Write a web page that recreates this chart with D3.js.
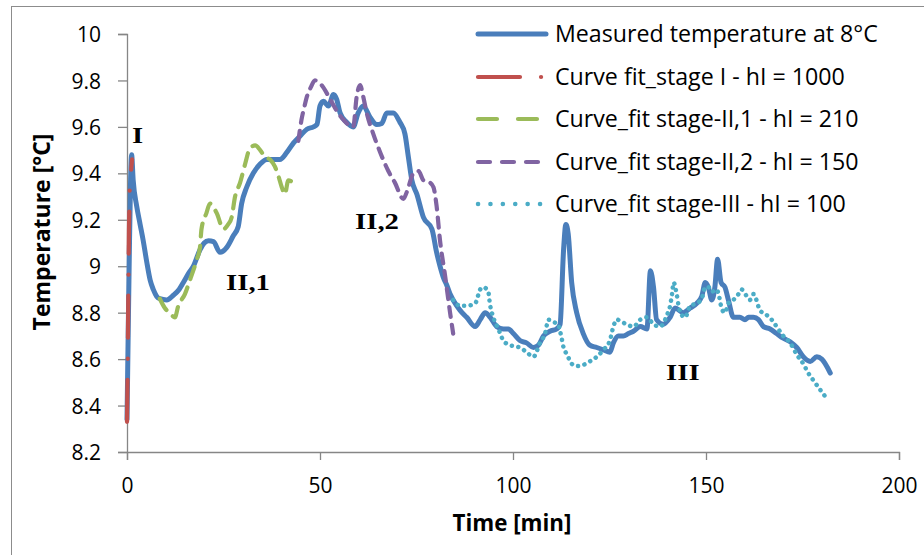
<!DOCTYPE html>
<html><head><meta charset="utf-8">
<script src="https://cdn.jsdelivr.net/npm/d3@7"></script>
<style>
html,body{margin:0;padding:0;background:#fff;}
svg{display:block;}
</style></head>
<body>
<script>
// ---------- DATA ----------
const measuredTime = [0,0.3,0.6,0.9,1.2,1.6,2.5,3.4,4.2,5.1,6.0,6.8,7.7,8.5,10.3,12.0,13.5,14.6,16.0,17.2,18.9,20.0,21.1,22.4,24.1,25.8,27.5,28.8,29.7,31.0,32.7,34.5,36.2,37.9,39.6,41.4,43.1,44.8,46.6,48.3,49.2,50.0,50.9,52.2,53.5,54.3,55.2,56.9,58.6,59.9,61.2,63.0,64.7,66.0,67.3,69.0,70.7,72.0,72.9,73.8,75.1,76.8,79.0,80.2,81.1,82.0,82.8,83.7,85.4,86.3,88.0,90.2,91.5,92.8,94.1,95.8,97.5,98.8,100.1,101.8,103.5,105.3,106.6,107.9,109.6,111.3,112.2,113.1,113.7,114.3,115.2,116.5,118.2,119.9,121.7,123.4,125.1,126.0,127.3,128.6,129.9,131.2,133.0,134.7,135.6,136.4,137.2,138.9,140.7,142.0,144.1,145.9,147.6,148.9,149.8,150.6,151.5,152.3,153.0,153.9,154.9,155.8,157.1,158.8,160.1,161.0,162.3,163.6,164.9,166.6,168.3,170.0,171.8,173.5,175.2,177.0,178.7,180.0,182.2];
const measuredTemp = [8.34,8.70,9.05,9.35,9.48,9.37,9.26,9.18,9.11,9.02,8.94,8.90,8.87,8.86,8.855,8.875,8.90,8.93,8.97,9.00,9.07,9.10,9.11,9.106,9.06,9.08,9.13,9.17,9.27,9.34,9.40,9.44,9.46,9.46,9.46,9.49,9.53,9.56,9.59,9.60,9.61,9.69,9.71,9.69,9.74,9.72,9.66,9.62,9.60,9.66,9.69,9.64,9.61,9.615,9.66,9.66,9.62,9.57,9.47,9.37,9.31,9.21,9.16,9.06,9.00,8.95,8.92,8.88,8.83,8.81,8.78,8.74,8.77,8.80,8.78,8.74,8.73,8.73,8.71,8.68,8.67,8.65,8.66,8.70,8.72,8.73,8.75,9.07,9.18,9.14,8.93,8.80,8.71,8.66,8.65,8.64,8.63,8.67,8.70,8.70,8.71,8.72,8.74,8.73,8.98,8.91,8.77,8.75,8.78,8.82,8.80,8.82,8.84,8.87,8.93,8.91,8.855,8.91,9.03,8.93,8.91,8.855,8.78,8.78,8.77,8.78,8.78,8.77,8.74,8.73,8.71,8.69,8.675,8.65,8.61,8.59,8.61,8.60,8.54];

const stage1Time = [0,0.2,0.35,0.5,0.7,1.0,1.3];
const stage1Temp = [8.33,8.60,8.90,9.15,9.34,9.40,9.46];

const stage21Time = [8.5,9.8,11.0,12.4,13.3,15.0,16.3,18.1,18.9,19.3,20.6,21.5,23.2,25.0,26.2,27.1,28.0,29.3,30.6,31.9,33.2,34.5,35.8,37.0,38.3,39.2,40.1,40.9,41.8,43.1,44.4];
const stage21Temp = [8.86,8.82,8.80,8.78,8.83,8.88,8.94,9.03,9.08,9.16,9.23,9.27,9.23,9.16,9.18,9.21,9.30,9.36,9.44,9.51,9.52,9.50,9.47,9.46,9.43,9.39,9.34,9.31,9.37,9.36,9.35];

const stage22Time = [44.4,45.2,46.0,46.6,47.6,48.7,50.4,52.6,54.3,56.1,58.6,59.5,60.4,61.2,62.1,63.8,65.6,67.7,69.4,71.6,72.5,74.2,75.5,76.8,78.5,79.4,80.2,81.1,82.4,83.7,84.5];
const stage22Temp = [9.54,9.63,9.69,9.73,9.77,9.80,9.78,9.72,9.67,9.63,9.60,9.73,9.78,9.73,9.66,9.57,9.49,9.41,9.36,9.29,9.32,9.40,9.41,9.37,9.36,9.34,9.26,9.11,8.96,8.80,8.71];

const stage3Time = [84.5,86.3,88.0,90.2,91.5,92.3,93.6,94.0,94.9,96.2,97.5,99.2,100.5,101.8,103.5,105.3,107.0,108.3,109.2,110.4,111.7,112.2,112.6,113.1,114.0,115.2,116.5,118.2,119.9,121.7,123.4,125.1,126.0,126.9,128.2,129.4,131.2,133.0,134.7,136.4,138.1,139.9,140.7,141.2,141.6,142.4,142.9,143.7,144.6,145.9,147.6,148.9,149.8,150.6,151.5,152.7,153.6,154.0,154.9,155.8,157.1,158.4,159.2,160.6,161.4,162.3,164.0,165.7,167.0,168.3,170.0,171.8,173.5,175.2,176.5,178.2,179.5,181.3];
const stage3Temp = [8.855,8.83,8.83,8.84,8.90,8.91,8.89,8.84,8.78,8.73,8.68,8.66,8.655,8.65,8.63,8.61,8.67,8.71,8.77,8.76,8.75,8.72,8.69,8.65,8.62,8.58,8.57,8.575,8.59,8.61,8.64,8.68,8.74,8.77,8.76,8.75,8.74,8.77,8.78,8.75,8.74,8.79,8.83,8.88,8.93,8.88,8.83,8.79,8.78,8.83,8.84,8.86,8.91,8.91,8.89,8.90,8.855,8.82,8.80,8.84,8.855,8.88,8.90,8.87,8.855,8.88,8.81,8.79,8.77,8.74,8.70,8.67,8.62,8.58,8.54,8.50,8.47,8.43];

const seriesNames = ["Measured temperature at 8°C","Curve fit_stage I - hI = 1000","Curve_fit stage-II,1 - hI = 210","Curve_fit stage-II,2 - hI = 150","Curve_fit stage-III - hI = 100"];
const xTicks = [0,50,100,150,200];
const yTicks = [8.2,8.4,8.6,8.8,9,9.2,9.4,9.6,9.8,10];
const stageLabels = ["I","II,1","II,2","III"];
const xTitle = "Time [min]";
const yTitle = "Temperature [°C]";

// ---------- STYLE ----------
const W = 924, H = 555;
const M = {left:127, right:924-899, top:34, bottom:555-452};
const colors = ["#4A7EBB","#C0504D","#9BBB59","#8064A2","#4BACC6"];
const widths = [5,4.2,4.2,4.2,4.5];
const dashPlot = [null,"42 21 0.1 21","13 9","10 8","0.1 6.5"];
const dashLegend = [null,"42 21 0.1 21","19 21","12 12","0.1 12.3"];
const axisColor = "#868686";
const sansFont = "'Open Sans', Lato, sans-serif";

const svg = d3.select("body").append("svg").attr("width",W).attr("height",H);
svg.append("rect").attr("x",0).attr("y",0).attr("width",W).attr("height",H).attr("fill","#fff");
svg.append("rect").attr("x",11.5).attr("y",6.5).attr("width",W+10).attr("height",H+10)
  .attr("fill","none").attr("stroke","#8c8c8c").attr("stroke-width",1);

// fit a text element's font size so its width equals target
function fitWidth(sel, target){
  const node = sel.node();
  const w = node.getComputedTextLength();
  const fs = parseFloat(sel.attr("font-size"));
  if (w > 0) sel.attr("font-size", fs * target / w);
  return sel;
}

const x = d3.scaleLinear().domain([0,200]).range([M.left, W-M.right]);
const y = d3.scaleLinear().domain([8.2,10]).range([H-M.bottom, M.top]);

// axes
const xAxis = svg.append("g").attr("transform",`translate(0,${y(8.2)})`)
  .call(d3.axisBottom(x).tickValues(xTicks).tickSize(8).tickPadding(18).tickFormat(d3.format("d")));
const yAxis = svg.append("g").attr("transform",`translate(${x(0)},0)`)
  .call(d3.axisLeft(y).tickValues(yTicks).tickSize(9).tickPadding(17).tickFormat(d => d3.format("~g")(d)));
[xAxis,yAxis].forEach(g=>{
  g.select(".domain").attr("stroke",axisColor).attr("stroke-width",1.3);
  g.selectAll(".tick line").attr("stroke",axisColor).attr("stroke-width",1.3);
  g.selectAll(".tick text").attr("font-family",sansFont).attr("font-size",21).attr("fill","#000");
});
xAxis.selectAll(".tick text").attr("dy","0.71em");
yAxis.selectAll(".tick text").attr("dy","0.36em");

// axis titles
const xt = svg.append("text").attr("x",512).attr("y",531).attr("text-anchor","middle")
  .attr("font-family",sansFont).attr("font-weight","bold").attr("font-size",20).text(xTitle);
fitWidth(xt, 119);
const yt = svg.append("text").attr("transform",`translate(50,232) rotate(-90)`).attr("text-anchor","middle")
  .attr("font-family",sansFont).attr("font-weight","bold").attr("font-size",20).text(yTitle);
fitWidth(yt, 197);

// series
const seriesData = [
  d3.zip(measuredTime, measuredTemp),
  d3.zip(stage1Time, stage1Temp),
  d3.zip(stage21Time, stage21Temp),
  d3.zip(stage22Time, stage22Temp),
  d3.zip(stage3Time, stage3Temp)
];
const line = d3.line().x(d=>x(d[0])).y(d=>y(d[1])).curve(d3.curveMonotoneX);
const lineStage1 = d3.line().x(d=>x(d[0])).y(d=>y(d[1])).curve(d3.curveLinear);
seriesData.forEach((data,i)=>{
  svg.append("path").datum(data)
    .attr("d", i===1 ? lineStage1 : line)
    .attr("fill","none").attr("stroke",colors[i]).attr("stroke-width",widths[i])
    .attr("stroke-linecap","round").attr("stroke-linejoin","round")
    .attr("stroke-dasharray",dashPlot[i]);
});

// stage labels (left x, baseline y)
const labelPos = [[132,143],[226,290],[355,229],[666,380]];
stageLabels.forEach((t,i)=>{
  const tx = svg.append("text").attr("x",labelPos[i][0]).attr("y",labelPos[i][1])
    .attr("font-family","'Liberation Serif','Times New Roman',serif").attr("font-weight","bold")
    .attr("font-size",23).text(t);
  const w = tx.node().getComputedTextLength();
  tx.attr("textLength", w*1.25).attr("lengthAdjust","spacingAndGlyphs");
});

// legend
const leg = svg.append("g");
const rowY = [34,77,119,162,204];
let legendFs = 22;
seriesNames.forEach((name,i)=>{
  const yy = rowY[i];
  leg.append("line").attr("x1",478).attr("x2",546).attr("y1",yy).attr("y2",yy)
    .attr("stroke",colors[i]).attr("stroke-width",widths[i]).attr("stroke-linecap","round")
    .attr("stroke-dasharray",dashLegend[i]);
  const t = leg.append("text").attr("x",555).attr("y",yy).attr("dy","0.36em")
    .attr("font-family",sansFont).attr("font-size",legendFs).text(name);
  if (i===0){ fitWidth(t, 323); legendFs = parseFloat(t.attr("font-size")); }
});
</script>
</body></html>
